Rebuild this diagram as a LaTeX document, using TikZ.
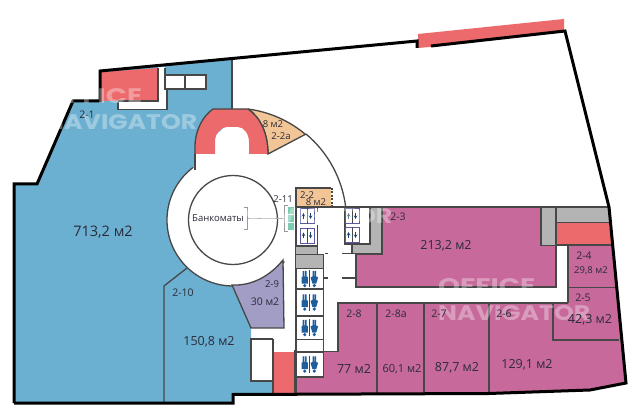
\documentclass[tikz,border=0pt]{standalone}
\usepackage{fontspec}
\usepackage{graphicx}
\setmainfont{Open Sans}
\newfontfamily\wmfont{Poppins}
\definecolor{roomblue}{HTML}{6CB0D1}
\definecolor{roomred}{HTML}{EC6A6C}
\definecolor{roompink}{HTML}{C76A9B}
\definecolor{roomviolet}{HTML}{A29DC5}
\definecolor{roomtan}{HTML}{F2C596}
\definecolor{roomgrey}{HTML}{B4B4B4}
\definecolor{roomteal}{HTML}{7CCBB0}
\definecolor{wallc}{HTML}{474747}
\definecolor{iconb}{HTML}{1F5E9C}
\definecolor{inkc}{HTML}{2A2A3A}
\newcommand{\wmark}[1]{\resizebox{#1}{15pt}}
\tikzset{
  wall/.style={draw=wallc,line width=1.3pt,line join=miter},
  outer/.style={draw=black,line width=3pt,line join=miter},
  lab/.style={font=\fontsize{10.5}{11}\selectfont,text=inkc,inner sep=0pt},
  labs/.style={font=\fontsize{9.5}{10}\selectfont,text=inkc,inner sep=0pt},
  labm/.style={font=\fontsize{11}{12}\selectfont,text=inkc,inner sep=0pt},
  labb/.style={font=\fontsize{12.5}{13}\selectfont,text=inkc,inner sep=0pt},
  wm/.style={font=\wmfont\bfseries,text=white,text opacity=0.34,inner sep=0pt,anchor=north west},
  liftbox/.pic={
    \draw[draw=gray!70!blue,fill=white,line width=0.9pt] (-7,-7.5) rectangle (7,7.5);
    \draw[draw=wallc,line width=0.5pt] (0,-7.5) -- (0,7.5);
    \draw[-stealth,draw=iconb!70!black,line width=0.6pt] (-3.5,-3) -- (-3.5,3);
    \draw[-stealth,draw=iconb!70!black,line width=0.6pt] (3.5,3) -- (3.5,-3);
  },
  wcicon/.pic={
    \fill[iconb] (-4.8,-6.6) circle[radius=1.8];
    \fill[iconb] (-8,-4.6) -- (-1.6,-4.6) -- (-1.6,2) -- (-2.8,2) -- (-2.8,8.2) -- (-4.5,8.2) -- (-4.5,2.5) -- (-5.1,2.5) -- (-5.1,8.2) -- (-6.8,8.2) -- (-6.8,2) -- (-8,2) -- cycle;
    \fill[iconb!80!black] (-0.3,-8.5) rectangle (0.3,8.5);
    \fill[iconb] (4.8,-6.6) circle[radius=1.8];
    \fill[iconb] (2.9,-4.6) -- (6.7,-4.6) -- (8.6,1.6) -- (6.5,2.6) -- (6.5,8.2) -- (5,8.2) -- (5,3) -- (4.6,3) -- (4.6,8.2) -- (3.1,8.2) -- (3.1,2.6) -- (1,1.6) -- cycle;
  }
}
\begin{document}
\begin{tikzpicture}[x=1pt,y=1pt,yscale=-1]
\useasboundingbox (0,0) rectangle (633,409);
\fill[white] (0,0) rectangle (633,409);
\coordinate (c) at (233,220);
% blue rooms
\fill[roomblue] (14,184) -- (37,184) -- (73,101) -- (100,101) -- (100,71) -- (232,59) -- (232,120) -- (195,154) -- (195,170) -- (233,220) -- (232,286) -- (251,328) -- (251,381) -- (273,381) -- (273,395) -- (233,395) -- (233,403) -- (14,403) -- cycle;
% top-left service rooms
\fill[white] (158,67) rectangle (165,110);
\fill[white] (165,89) rectangle (167,110);
\fill[white] (118,101) rectangle (167,110);
\fill[roomred] (102,72) -- (158,68) -- (158,101) -- (102,101) -- cycle;
\draw[wall] (158,68) -- (158,101) -- (118,101);
\draw[wall] (118,102) -- (118,109.5) -- (167,109.5) -- (167,89);
\draw[wall] (165,68) -- (165,89);
\draw[wall,fill=white] (165,75) rectangle (206,89);
\draw[wall] (185,75) -- (185,89);
\draw[wall] (232,60) -- (232,109);
% white hall with circular forum
\fill[white] (c) circle[radius=66];
\draw[wall] (195,154) -- (195,170);
\draw[wall] (c)+(233:66) arc[start angle=233,end angle=39,radius=66];
\draw[draw=wallc,line width=1.3pt] (c) circle[radius=44.5];
% arch and wedge
\draw[wall,fill=roomtan] (248,109) arc[start angle=277.6,end angle=310,radius=112.5] -- (268,154) .. controls (268,133) and (260,117) .. (248,109);
\fill[roomred] (195,154) -- (195,147) .. controls (195,130) and (203,116) .. (213,109) -- (248,109) .. controls (260,117) and (268,133) .. (268,154) -- (249,154) -- (249,142) .. controls (249,134) and (244,127) .. (238,127) -- (227,127) .. controls (221,127) and (215,133) .. (215,142) -- (215,154) -- cycle;
\draw[wall] (195,154) -- (195,147) .. controls (195,130) and (203,116) .. (213,109) -- (248,109) .. controls (260,117) and (268,133) .. (268,154);
\draw[wall] (306,134) arc[start angle=310,end angle=353,radius=113.5];
% 2-10 partition
\draw[wall] (187,268) -- (164,286) -- (164,402);
% 2-9
\draw[wall,fill=roomviolet] (232,285) .. controls (252,286) and (270,276) .. (283,260) -- (284,328) -- (251,328) -- cycle;
% lower-left white room and core red
\draw[wall,fill=white] (273,339) -- (251,339) -- (251,381) -- (273,381);
\fill[roomred] (273,352) rectangle (295,394);
\draw[wall] (273,339) -- (273,394);
\draw[wall] (295,350) -- (295,394);
% pink lower row and east rooms
\fill[roompink] (338,303) -- (568,303) -- (568,246) -- (612.8,246) -- (626,383) -- (590,390) -- (489,393) -- (296,394) -- (296,352) -- (338,352) -- cycle;
\draw[wall] (296,351.5) -- (338,351.5) -- (338,303) -- (568,303);
\draw[wall] (377,303) -- (377,393);
\draw[wall] (424,303) -- (424,393);
\draw[wall] (489,303) -- (489,393);
% 2-5, 2-4
\draw[wall] (568,246) -- (568,303);
\draw[wall] (568,287.5) -- (616,287.5);
\draw[wall] (568,303) -- (553,303) -- (553,340) -- (619,340);
% 2-3
\draw[wall,fill=roompink] (382,207) -- (541,207) -- (541,245) -- (556,245) -- (556,287) -- (356,287) -- (356,254) -- (382,254) -- cycle;
\fill[roomgrey] (541,207) rectangle (556,245);
\fill[roomgrey] (556,207) rectangle (609,222);
\fill[roomred] (556,223) -- (609,223) -- (612,245) -- (556,245) -- cycle;
\draw[wall] (541,245) -- (541,207) -- (609,207);
\draw[wall] (556,207) -- (556,245) -- (612,245);
\draw[wall] (556,222.5) -- (609,222.5);
% grey around right lifts
\fill[roomgrey] (370,207) rectangle (381.5,253.5);
\fill[roomgrey] (353,244) rectangle (381.5,253.5);
\draw[wall] (370,207) -- (370,244) -- (353,244);
\draw[wall] (381.5,207) -- (381.5,254);
\draw[wall] (345,208) -- (345,244) -- (352,244) -- (352,253);
\draw[wall] (342,253.5) -- (382,253.5);
\draw[wall] (342,278) -- (356,278);
\draw[wall] (325,253.5) -- (328,253.5);
\draw[wall] (324,278) -- (328,278);
\draw[wall] (296,207) -- (609,207);
% 2-2 kiosk
\fill[roomtan] (296,188) rectangle (331,207);
\draw[wall] (331,207) -- (296,207) -- (296,188) -- (331,188);
\draw[draw=wallc,line width=1.1pt,dash pattern=on 2pt off 1.5pt] (332,188) -- (332,207);
% left core wall and grey
\draw[wall] (296,207) -- (296,394);
\draw[wall] (317.5,207) -- (317.5,212);
\draw[wall] (317.5,225) -- (317.5,254);
\fill[roomgrey] (296,246) rectangle (317,254);
\draw[wall] (296,246) -- (317,246);
\fill[roomgrey] (296,255) rectangle (323,268);
\draw[wall] (296,254.5) -- (323.5,254.5) -- (323.5,351);
\draw[wall] (296,268.5) -- (323.5,268.5);
\draw[wall] (296,289) -- (323.5,289);
\draw[wall] (296,316) -- (323.5,316);
\draw[wall] (296,339.5) -- (323.5,339.5);
% lower WC box
\draw[wall,fill=white] (296,352) rectangle (323.5,377);
% lifts
\pic at (307,216) {liftbox};
\pic at (307,235.5) {liftbox};
\pic at (352,216) {liftbox};
\pic at (352,235) {liftbox};
% WC icons
\pic at (309.5,279) {wcicon};
\pic at (309.5,302.5) {wcicon};
\pic at (309.5,328) {wcicon};
\pic at (309.5,364.5) {wcicon};
% kiosks 2-11
\fill[roomteal] (287.5,207) rectangle (294,230);
\draw[draw=white,line width=0.5pt] (287.5,214.5) -- (294,214.5) (287.5,222.5) -- (294,222.5);
\draw[draw=gray!80,line width=0.7pt] (288,205.5) -- (284.5,205.5) -- (284.5,231) -- (288,231);
\draw[draw=gray!80,line width=0.7pt] (244,207) -- (247.5,207) -- (247.5,229) -- (244,229);
\draw[draw=gray!60,line width=0.5pt] (247.5,218) -- (284.5,218);
% outer outline
\fill[roomred] (418,34) -- (564,19) -- (564,30) -- (430,47) -- (418,48) -- cycle;
\draw[outer] (14,403) -- (14,184) -- (37,184) -- (73,101) -- (100,101) -- (100,71) -- (417,41) -- (417,48);
\draw[outer] (431,46) -- (565,31) -- (609,207) -- (626,383) -- (590,390) -- (489,393.5) -- (233,394.5) -- (233,403) -- (14,403);
% watermarks
\node[wm] (w1a) at (45,88) {\wmark{97pt}{OFFICE}};
\node[wm] (w1b) at (45,114) {\wmark{152pt}{NAVIGATOR}};
\node[wm] (w2b) at (240,208) {\wmark{152pt}{NAVIGATOR}};
\node[wm] (w3a) at (438,278) {\wmark{97pt}{OFFICE}};
\node[wm] (w3b) at (438,305) {\wmark{152pt}{NAVIGATOR}};
% labels
\node[lab] (l21) at (87,115) {2-1};
\node[font=\fontsize{14.5}{15}\selectfont,text=inkc,inner sep=0pt] (l713) at (103,232) {713,2 м2};
\node[labs] (l8a) at (273,124) {8 м2};
\node[labs] (l22a) at (281,136) {2-2а};
\node[labs] (lbank) at (218,218) {Банкоматы};
\node[labs] (l211) at (283,199) {2-11};
\node[labs] (l22) at (307,195) {2-2};
\node[labs] (l8b) at (316,202.5) {8 м2};
\node[lab] (l23) at (398,217) {2-3};
\node[labb] (l213) at (446,246) {213,2 м2};
\node[lab] (l24) at (584,256) {2-4};
\node[labs] (l298) at (591,271) {29,8 м2};
\node[lab] (l25) at (583,298) {2-5};
\node[labb] (l423) at (590,320) {42,3 м2};
\node[lab] (l28) at (354,314) {2-8};
\node[lab] (l28a) at (396,314) {2-8а};
\node[lab] (l27) at (439,314) {2-7};
\node[lab] (l26) at (504,314) {2-6};
\node[labb] (l77) at (354,369) {77 м2};
\node[labm] (l601) at (402,369) {60,1 м2};
\node[labb] (l877) at (457,368) {87,7 м2};
\node[labb] (l1291) at (527,365) {129,1 м2};
\node[labs] (l29) at (272,284) {2-9};
\node[lab] (l30) at (265,302) {30 м2};
\node[lab] (l210) at (183,293) {2-10};
\node[labb] (l1508) at (209,342) {150,8 м2};
\end{tikzpicture}
\end{document}
